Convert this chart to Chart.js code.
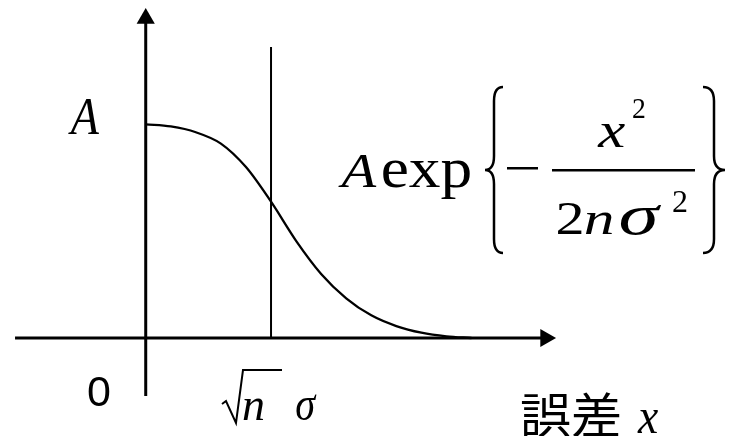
<!DOCTYPE html>
<html>
<head>
<meta charset="utf-8">
<script src="https://cdn.jsdelivr.net/npm/chart.js@4/dist/chart.umd.min.js"></script>
<style>
  html, body { margin: 0; padding: 0; background: #fff; }
  canvas { display: block; }
</style>
</head>
<body>
<canvas id="errorChart" width="729" height="436"></canvas>
<script>
// x in units of sqrt(n)*sigma, y in units of A
const curveX = [0, 0.2, 0.4, 0.6, 0.8, 1.0, 1.2, 1.4, 1.6, 1.8, 2.0, 2.2, 2.4, 2.6];
const curveY = [1.0, 0.99, 0.963, 0.91, 0.80, 0.638, 0.455, 0.30, 0.186, 0.106, 0.056, 0.025, 0.008, 0];

const xAxisSpan = [-1.043, 3.191];
const yAxisSpan = [-0.271, 1.495];
const sigmaLineX = 1;
const sigmaLineTop = 1.362;

const xRange = [-1.163, 4.655];
const yRange = [-0.4586, 1.582];

const toPoints = (xs, ys) => xs.map((x, i) => ({ x: x, y: ys[i] }));

// draws text so that its ink spans [left, right]
function fitText(ctx, str, font, left, right, baseline) {
  ctx.font = font;
  const m = ctx.measureText(str);
  const inkW = m.actualBoundingBoxLeft + m.actualBoundingBoxRight;
  const sx = (right - left) / inkW;
  ctx.save();
  ctx.translate(left, baseline);
  ctx.scale(sx, 1);
  ctx.fillText(str, m.actualBoundingBoxLeft, 0);
  ctx.restore();
}

function brace(ctx, xc, top, bottom, w, dir) {
  const mid = (top + bottom) / 2;
  const r = 14;
  ctx.beginPath();
  ctx.moveTo(xc - dir * w / 2, top);
  ctx.quadraticCurveTo(xc, top, xc, top + r);
  ctx.lineTo(xc, mid - r);
  ctx.quadraticCurveTo(xc, mid, xc + dir * w / 2, mid);
  ctx.quadraticCurveTo(xc, mid, xc, mid + r);
  ctx.lineTo(xc, bottom - r);
  ctx.quadraticCurveTo(xc, bottom, xc - dir * w / 2, bottom);
  ctx.stroke();
}

const labelsPlugin = {
  id: "mathLabels",
  afterDraw(chart) {
    const ctx = chart.ctx;
    const serif = '"Liberation Serif", "Times New Roman", serif';
    ctx.save();
    ctx.fillStyle = "#000";
    ctx.strokeStyle = "#000";
    ctx.textAlign = "left";
    ctx.textBaseline = "alphabetic";

    // axis labels
    fitText(ctx, "A", "italic 52px " + serif, 68, 99, 134);
    fitText(ctx, "0", '43px "Liberation Sans", Arial, sans-serif', 88, 110, 406);
    fitText(ctx, "誤差", '48px "Noto Sans CJK JP", sans-serif', 521, 620, 433);
    fitText(ctx, "x", "italic 50px " + serif, 637, 658, 433);

    // sqrt(n) sigma under the marker line
    ctx.lineWidth = 2;
    ctx.lineJoin = "miter";
    ctx.beginPath();
    ctx.moveTo(222, 404);
    ctx.lineTo(226, 401);
    ctx.lineTo(236, 423);
    ctx.lineTo(243, 370);
    ctx.lineTo(282, 370);
    ctx.stroke();
    fitText(ctx, "n", "italic 46px " + serif, 243, 264, 420);
    fitText(ctx, "σ", "italic 48px " + serif, 296, 317, 420);

    // A exp{ -x^2 / (2 n sigma^2) }
    fitText(ctx, "A", "italic 48px " + serif, 338, 377, 187);
    fitText(ctx, "exp", "56px " + serif, 383, 470, 187);
    ctx.lineWidth = 2.5;
    brace(ctx, 494, 87, 253, 18, -1);
    brace(ctx, 714, 87, 253, 22, 1);
    ctx.fillRect(507, 167, 31, 2.5);
    ctx.fillRect(552, 169, 143, 2.5);
    fitText(ctx, "x", "italic 50px " + serif, 597, 625, 147);
    fitText(ctx, "2", "30px " + serif, 633, 645, 118);
    fitText(ctx, "2", "46px " + serif, 558, 582, 234);
    fitText(ctx, "n", "italic 46px " + serif, 585, 613, 234);
    fitText(ctx, "σ", "italic 58px " + serif, 620, 662, 234);
    fitText(ctx, "2", "32px " + serif, 673, 687, 212);
    ctx.restore();
  }
};

const arrowRadius = (ctx) => (ctx.dataIndex === 1 ? 10.5 : 0);

new Chart(document.getElementById("errorChart").getContext("2d"), {
  type: "scatter",
  data: {
    datasets: [
      {
        label: "curve",
        data: toPoints(curveX, curveY),
        showLine: true,
        borderColor: "#000",
        borderWidth: 2.3,
        pointRadius: 0,
        cubicInterpolationMode: "monotone",
      },
      {
        label: "x axis",
        data: toPoints(xAxisSpan, [0, 0]),
        showLine: true,
        borderColor: "#000",
        backgroundColor: "#000",
        borderWidth: 3,
        pointStyle: "triangle",
        rotation: 90,
        pointRadius: arrowRadius,
        pointBorderWidth: 0,
      },
      {
        label: "y axis",
        data: toPoints([0, 0], yAxisSpan),
        showLine: true,
        borderColor: "#000",
        backgroundColor: "#000",
        borderWidth: 3,
        pointStyle: "triangle",
        rotation: 0,
        pointRadius: arrowRadius,
        pointBorderWidth: 0,
      },
      {
        label: "sigma line",
        data: toPoints([sigmaLineX, sigmaLineX], [0, sigmaLineTop]),
        showLine: true,
        borderColor: "#000",
        borderWidth: 2,
        pointRadius: 0,
      },
    ],
  },
  options: {
    responsive: false,
    animation: false,
    devicePixelRatio: 1,
    layout: { padding: 0, autoPadding: false },
    clip: false,
    scales: {
      x: { type: "linear", min: xRange[0], max: xRange[1], display: false },
      y: { type: "linear", min: yRange[0], max: yRange[1], display: false },
    },
    plugins: {
      legend: { display: false },
      tooltip: { enabled: false },
    },
  },
  plugins: [labelsPlugin],
});
</script>
</body>
</html>
